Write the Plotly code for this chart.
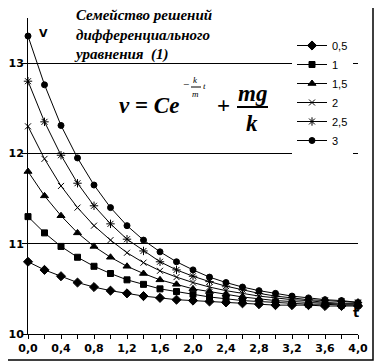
import plotly.graph_objects as go

t = [0.0, 0.2, 0.4, 0.6, 0.8, 1.0, 1.2, 1.4, 1.6, 1.8, 2.0,
     2.2, 2.4, 2.6, 2.8, 3.0, 3.2, 3.4, 3.6, 3.8, 4.0]

labels = ["0,5", "1", "1,5", "2", "2,5", "3"]

v_05 = [10.80, 10.71, 10.64, 10.57, 10.52, 10.48, 10.45, 10.42, 10.40, 10.38, 10.37,
        10.36, 10.35, 10.34, 10.33, 10.32, 10.32, 10.32, 10.31, 10.31, 10.31]
v_1 = [11.30, 11.12, 10.97, 10.85, 10.75, 10.67, 10.60, 10.55, 10.50, 10.47, 10.44,
       10.41, 10.39, 10.37, 10.36, 10.35, 10.34, 10.33, 10.33, 10.32, 10.32]
v_15 = [11.80, 11.53, 11.31, 11.12, 10.97, 10.85, 10.75, 10.67, 10.60, 10.55, 10.50,
        10.47, 10.44, 10.41, 10.39, 10.37, 10.36, 10.35, 10.34, 10.33, 10.33]
v_2 = [12.30, 11.94, 11.64, 11.40, 11.20, 11.04, 10.90, 10.79, 10.70, 10.63, 10.57,
       10.52, 10.48, 10.45, 10.42, 10.40, 10.38, 10.37, 10.35, 10.34, 10.34]
v_25 = [12.80, 12.35, 11.98, 11.67, 11.42, 11.22, 11.05, 10.92, 10.80, 10.71, 10.64,
        10.58, 10.53, 10.49, 10.45, 10.42, 10.40, 10.38, 10.37, 10.36, 10.35]
v_3 = [13.30, 12.76, 12.31, 11.95, 11.65, 11.40, 11.20, 11.04, 10.91, 10.80, 10.71,
       10.63, 10.57, 10.52, 10.48, 10.45, 10.42, 10.40, 10.38, 10.37, 10.35]

series = [v_05, v_1, v_15, v_2, v_25, v_3]
symbols = ["diamond", "square", "triangle-up", "x-thin-open", "asterisk-open", "circle"]
sizes = [7, 6, 7, 6, 7, 6]

x_ticks = [0.0, 0.4, 0.8, 1.2, 1.6, 2.0, 2.4, 2.8, 3.2, 3.6, 4.0]
y_ticks = [10, 11, 12, 13]

W, H = 385, 364
OFF = 8  # default page body margin of the html page
# plot-area edges in screen pixels
L, R, T, B = 28, 358, 18, 334


def xp(px):
    return (px - L) / (R - L)


def yp(py):
    return (B - py) / (B - T)


fig = go.Figure()
for lab, ys, sym, sz in zip(labels, series, symbols, sizes):
    fig.add_trace(go.Scatter(
        x=t, y=ys, name=lab, mode="lines+markers",
        line=dict(color="black", width=1),
        marker=dict(symbol=sym, size=sz, color="black",
                    line=dict(color="black", width=1)),
        cliponaxis=False,
    ))

serif = "'Liberation Serif', 'DejaVu Serif', serif"
sans_b = "DejaVu Sans"

ann = []
# Title
ann.append(dict(
    text="<b><i>Семейство решений<br>дифференциального<br>уравнения\u00a0\u00a0(1)</i></b>",
    x=xp(72), y=yp(5), xanchor="left", yanchor="top", align="left",
    font=dict(family=serif, size=15, color="black"),
))
# Formula pieces
fbig = dict(family=serif, size=23, color="black")
fsm = dict(family=serif, size=9, color="black")
ann += [
    dict(text="<b><i>v</i> = <i>Ce</i></b>", x=xp(181), y=yp(105), xanchor="right", yanchor="middle", font=fbig),
    dict(text="−", x=xp(186), y=yp(84), xanchor="center", yanchor="middle",
         font=dict(family=serif, size=11, color="black")),
    dict(text="<i>k</i>", x=xp(196), y=yp(80), xanchor="center", yanchor="middle", font=fsm),
    dict(text="<i>m</i>", x=xp(196), y=yp(94), xanchor="center", yanchor="middle", font=fsm),
    dict(text="<i>t</i>", x=xp(204), y=yp(86), xanchor="center", yanchor="middle", font=fsm),
    dict(text="<b>+</b>", x=xp(223), y=yp(105), xanchor="center", yanchor="middle", font=fbig),
    dict(text="<b><i>mg</i></b>", x=xp(252), y=yp(93), xanchor="center", yanchor="middle", font=fbig),
    dict(text="<b><i>k</i></b>", x=xp(252), y=yp(123), xanchor="center", yanchor="middle", font=fbig),
]
# Axis names
ann += [
    dict(text="<b>V</b>", x=xp(43), y=yp(33), xanchor="center", yanchor="middle",
         font=dict(family=sans_b, size=11, color="black")),
    dict(text="<b>t</b>", x=xp(356), y=yp(312), xanchor="center", yanchor="middle",
         font=dict(family=sans_b, size=13, color="black")),
]
for a in ann:
    a.setdefault("xref", "paper")
    a.setdefault("yref", "paper")
    a.setdefault("showarrow", False)

shapes = [
    # white panel behind title (hides the 13 gridline there)
    dict(type="rect", xref="paper", yref="paper", x0=xp(72), x1=xp(290),
         y0=yp(70), y1=yp(5), fillcolor="white", line=dict(width=0), layer="between"),
    # fraction bars
    dict(type="line", xref="paper", yref="paper", x0=xp(191), x1=xp(201),
         y0=yp(87), y1=yp(87), line=dict(color="black", width=1)),
    dict(type="line", xref="paper", yref="paper", x0=xp(237), x1=xp(268),
         y0=yp(107), y1=yp(107), line=dict(color="black", width=2)),
    # chart frame
    dict(type="rect", xref="paper", yref="paper", x0=xp(2), x1=xp(373),
         y0=yp(360), y1=yp(2), line=dict(color="black", width=1.5), layer="above"),
]

fig.update_layout(
    template="none",
    width=W, height=H,
    margin=dict(l=L - OFF, r=W - (R - OFF), t=T - OFF, b=H - (B - OFF),
                pad=0, autoexpand=False),
    paper_bgcolor="white", plot_bgcolor="white",
    separators=", ",
    showlegend=True,
    legend=dict(x=xp(292), y=yp(31), xanchor="left", yanchor="top",
                bgcolor="white", borderwidth=0, itemwidth=30, tracegroupgap=0,
                font=dict(family="Liberation Sans", size=11, color="black")),
    annotations=ann,
    shapes=shapes,
    xaxis=dict(range=[0, 4], tickvals=x_ticks, tickformat=".1f", automargin=False,
               showgrid=False, zeroline=False, showline=True, linecolor="black",
               linewidth=1, ticks="outside", ticklen=4, tickcolor="black",
               minor=dict(dtick=0.2, ticks="outside", ticklen=4, tickcolor="black"),
               tickfont=dict(family=sans_b, size=11, color="black", weight="bold")),
    yaxis=dict(range=[10, 13.5], tickvals=y_ticks, tickformat="d", automargin=False,
               showgrid=True, gridcolor="black", gridwidth=1, zeroline=False,
               showline=True, linecolor="black", linewidth=1,
               ticks="outside", ticklen=5, tickcolor="black", ticklabelstandoff=-4,
               tickfont=dict(family=sans_b, size=11, color="black", weight="bold")),
)

fig.write_html("out.html")
